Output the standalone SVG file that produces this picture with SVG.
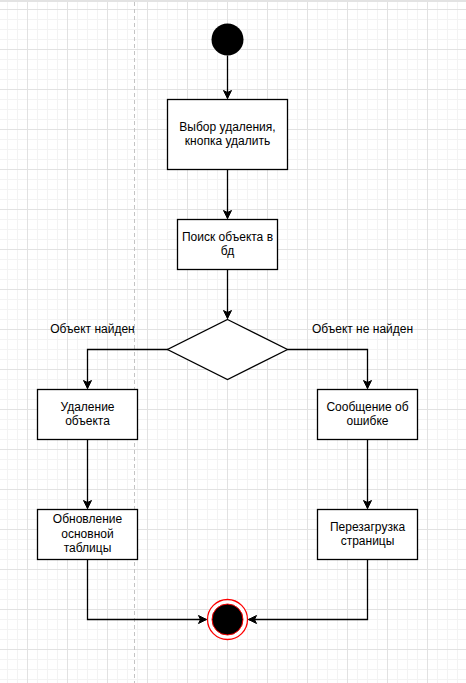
<svg xmlns="http://www.w3.org/2000/svg" width="466" height="683" viewBox="0 0 466 683">
<defs>
<pattern id="gridMinor" patternUnits="userSpaceOnUse" x="7" y="9" width="10" height="10">
<path d="M0 0.5 H10 M0.5 0 V10" fill="none" stroke="#f3f3f3" stroke-width="1"/>
</pattern>
<pattern id="gridMajor" patternUnits="userSpaceOnUse" x="27" y="9" width="40" height="40">
<path d="M0 0.5 H40 M0.5 0 V40" fill="none" stroke="#e2e2e2" stroke-width="1"/>
</pattern>
<marker id="arrow" markerUnits="userSpaceOnUse" markerWidth="12" markerHeight="12" viewBox="-10 -6 12 12" refX="0" refY="0" orient="auto">
<path d="M0 0 L-8 -4 L-6 0 L-8 4 Z" fill="#000" stroke="#000" stroke-width="1" stroke-linejoin="miter"/>
</marker>
<style>
.box{fill:#fff;stroke:#000;stroke-width:1.3}
.t{font-family:"Liberation Sans",Arial,sans-serif;font-size:12px;fill:#000;text-anchor:middle}
.edge{fill:none;stroke:#000;stroke-width:1.3;marker-end:url(#arrow)}
</style>
</defs>
<rect width="466" height="683" fill="#fff"/>
<rect width="466" height="683" fill="url(#gridMinor)"/>
<rect width="466" height="683" fill="url(#gridMajor)"/>
<rect x="0" y="0" width="466" height="2" fill="#e3e3e3"/>
<line x1="134.5" y1="2" x2="134.5" y2="683" stroke="#c4c4c4" stroke-width="1" stroke-dasharray="4 3"/>

<g id="connectors">
<path class="edge" d="M227.5 55.5 V98.5"/>
<path class="edge" d="M227.5 169.5 V218.5"/>
<path class="edge" d="M227.5 269.5 V318.5"/>
<path class="edge" d="M168 349.5 H87.5 V388.5"/>
<path class="edge" d="M287.5 349.5 H367.5 V388.5"/>
<path class="edge" d="M87.5 439.5 V508.5"/>
<path class="edge" d="M367.5 439.5 V508.5"/>
<path class="edge" d="M87.5 559.5 V619.5 H206.5"/>
<path class="edge" d="M367.5 559.5 V619.5 H248.5"/>
</g>

<g id="start">
<circle cx="227.5" cy="39.5" r="16" fill="#000"/>
</g>

<g id="select">
<rect class="box" x="167.5" y="99.5" width="120" height="70"/>
<text class="t" x="227.5" y="131">Выбор удаления,</text>
<text class="t" x="227.5" y="145">кнопка удалить</text>
</g>

<g id="search">
<rect class="box" x="177.5" y="219.5" width="100" height="50"/>
<text class="t" x="227.5" y="241">Поиск объекта в</text>
<text class="t" x="227.5" y="255">бд</text>
</g>

<g id="decision">
<path class="box" d="M227.5 319.5 L287.5 349.5 L227.5 379.5 L167.5 349.5 Z"/>
</g>

<g id="label-found">
<text class="t" x="92.5" y="333">Объект найден</text>
</g>

<g id="label-notfound">
<text class="t" x="362.5" y="333">Объект не найден</text>
</g>

<g id="delete">
<rect class="box" x="37.5" y="389.5" width="100" height="50"/>
<text class="t" x="87.5" y="411">Удаление</text>
<text class="t" x="87.5" y="425">объекта</text>
</g>

<g id="update">
<rect class="box" x="37.5" y="509.5" width="100" height="50"/>
<text class="t" x="87.5" y="523">Обновление</text>
<text class="t" x="87.5" y="537.5">основной</text>
<text class="t" x="87.5" y="552">таблицы</text>
</g>

<g id="error">
<rect class="box" x="317.5" y="389.5" width="100" height="50"/>
<text class="t" x="367.5" y="411">Сообщение об</text>
<text class="t" x="367.5" y="425">ошибке</text>
</g>

<g id="reload">
<rect class="box" x="317.5" y="509.5" width="100" height="50"/>
<text class="t" x="367.5" y="531">Перезагрузка</text>
<text class="t" x="367.5" y="545">страницы</text>
</g>

<g id="end">
<circle cx="227.5" cy="619.5" r="20" fill="#fff" stroke="#ff0000" stroke-width="1.3"/>
<circle cx="227.5" cy="619.5" r="15.5" fill="#000" stroke="#ff0000" stroke-width="1"/>
</g>
</svg>
